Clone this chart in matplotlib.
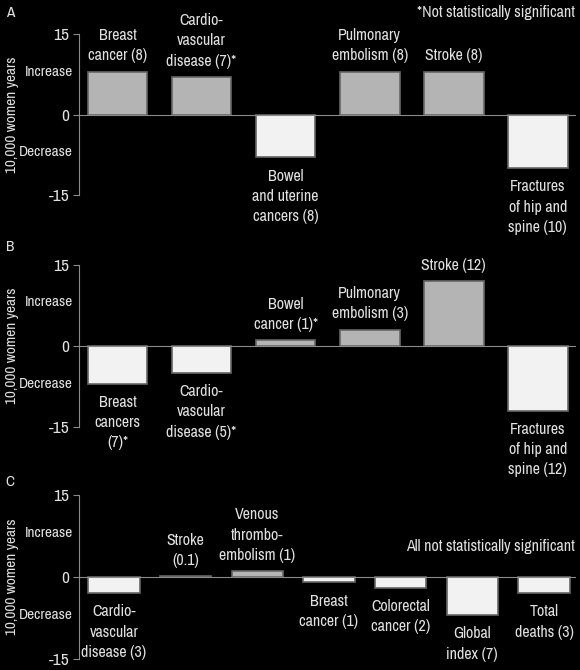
import numpy as np
import matplotlib.pyplot as plt

plt.rcParams['font.family'] = ['Archivo Narrow', 'DejaVu Sans']

# panel A
labels_a = ['Breast\ncancer (8)', 'Cardio-\nvascular\ndisease (7)*', 'Bowel\nand uterine\ncancers (8)',
            'Pulmonary\nembolism (8)', 'Stroke (8)', 'Fractures\nof hip and\nspine (10)']
values_a = [8, 7, -8, 8, 8, -10]

# panel B
labels_b = ['Breast\ncancers\n(7)*', 'Cardio-\nvascular\ndisease (5)*', 'Bowel\ncancer (1)*',
            'Pulmonary\nembolism (3)', 'Stroke (12)', 'Fractures\nof hip and\nspine (12)']
values_b = [-7, -5, 1, 3, 12, -12]

# panel C
labels_c = ['Cardio-\nvascular\ndisease (3)', 'Stroke\n(0.1)', 'Venous\nthrombo-\nembolism (1)',
            'Breast\ncancer (1)', 'Colorectal\ncancer (2)', 'Global\nindex (7)', 'Total\ndeaths (3)']
values_c = [-3, 0.1, 1, -1, -2, -7, -3]

panels = [('A', labels_a, values_a, [0.709, 0.240], (-0.46, 5.44), 0.71, 13, '*Not statistically significant', 13),
          ('B', labels_b, values_b, [0.363, 0.242], (-0.46, 5.44), 0.71, 247, None, None),
          ('C', labels_c, values_c, [0.0164, 0.245], (-0.49, 6.43), 0.72, 482, 'All not statistically significant', 546)]

txt = '#e0e0e0'
line = '#8a8a8a'
fs = 11.5

fig = plt.figure(figsize=(5.8, 6.7), dpi=100, facecolor='black')

for letter, labels, values, (bot, h), xl, w, ly, note, ny in panels:
    ax = fig.add_axes([0.136, bot, 0.855, h], facecolor='black')
    x = np.arange(len(values))
    cols = ['#b4b4b4' if v > 0 else '#f2f2f2' for v in values]
    ax.bar(x, values, width=w, color=cols, edgecolor='#666666', linewidth=1.2, zorder=2)
    for xi, v, lab in zip(x, values, labels):
        if v > 0:
            ax.annotate(lab, (xi, v), xytext=(0, 6), textcoords='offset points', ha='center', va='bottom',
                        color=txt, fontsize=fs, linespacing=1.45, annotation_clip=False)
        else:
            ax.annotate(lab, (xi, v), xytext=(0, -8), textcoords='offset points', ha='center', va='top',
                        color=txt, fontsize=fs, linespacing=1.45, annotation_clip=False)
    ax.set_xlim(*xl)
    ax.set_ylim(-15, 15)
    ax.set_yticks([-15, 0, 15])
    ax.set_yticklabels(['-15', '0', '15'])
    ax.set_xticks([])
    for s in ['top', 'right']:
        ax.spines[s].set_visible(False)
    ax.spines['bottom'].set_position(('data', 0))
    ax.spines['bottom'].set_color(line)
    ax.spines['left'].set_color(line)
    ax.spines['bottom'].set_zorder(3)
    ax.tick_params(axis='y', colors=line, labelcolor=txt, labelsize=12.5, length=4, pad=3)
    ax.text(-0.012, 8, 'Increase', transform=ax.get_yaxis_transform(), ha='right', va='center',
            color=txt, fontsize=11)
    ax.text(-0.012, -7, 'Decrease', transform=ax.get_yaxis_transform(), ha='right', va='center',
            color=txt, fontsize=11)
    fig.text(12 / 580, bot + h / 2, '10,000 women years', rotation=90, ha='center', va='center',
             color=txt, fontsize=11)
    fig.text(0.01, 1 - ly / 670, letter, ha='left', va='center', color=txt, fontsize=11)
    if note:
        fig.text(575 / 580, 1 - ny / 670, note, ha='right', va='center', color=txt, fontsize=fs)

fig.savefig('out.png', dpi=100, facecolor='black')
